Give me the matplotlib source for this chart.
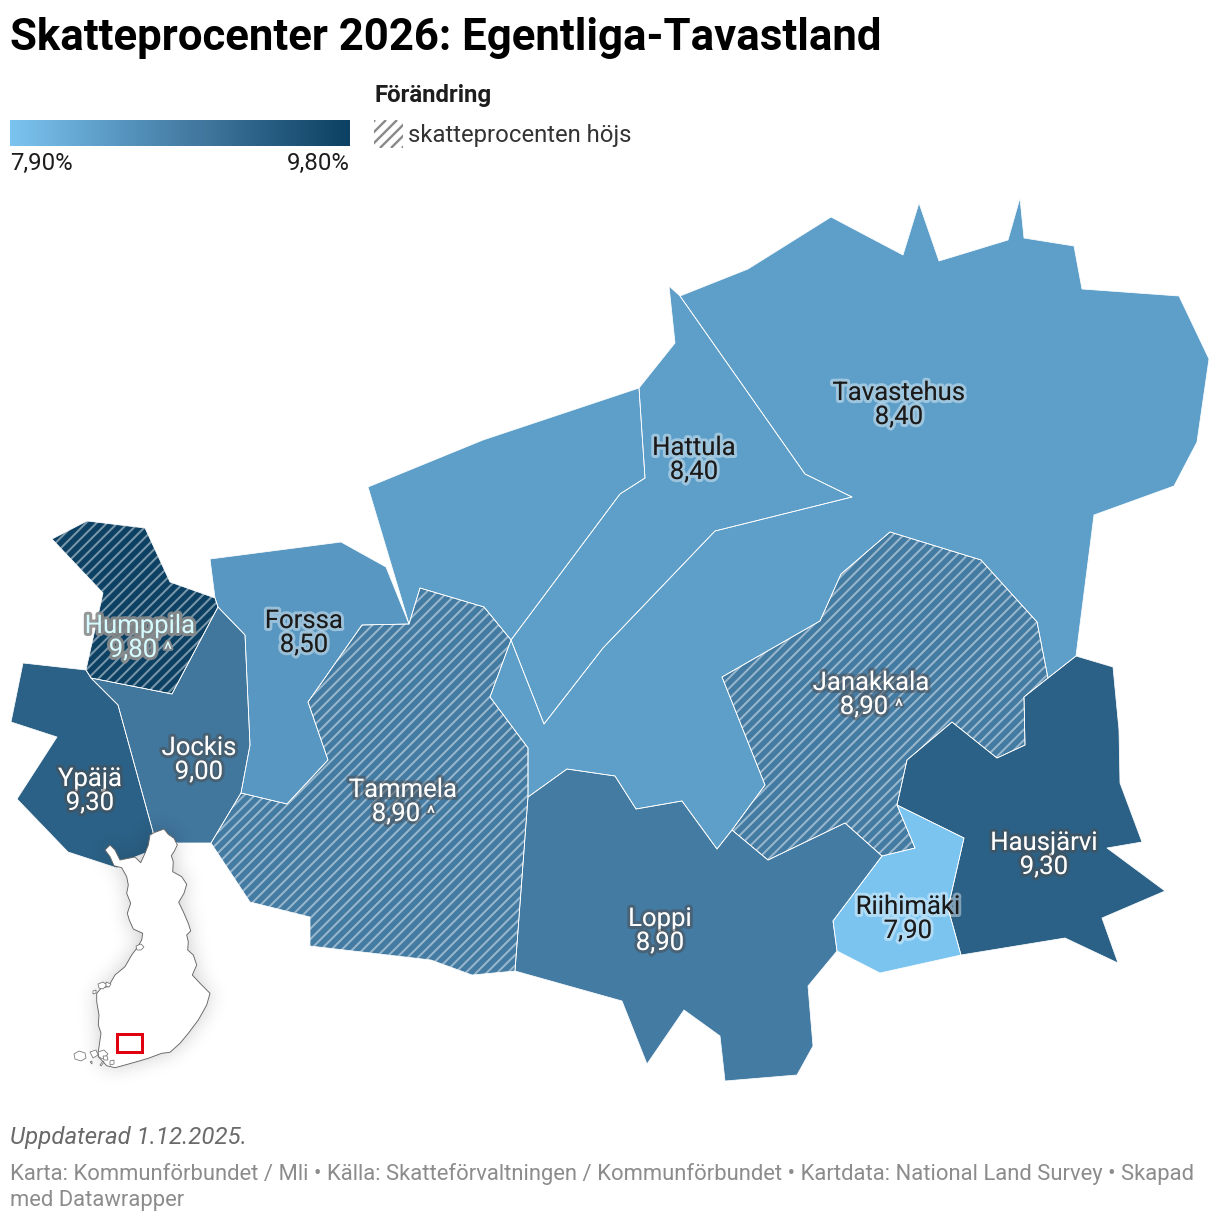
import matplotlib
matplotlib.use("Agg")
import matplotlib.pyplot as plt
import numpy as np
from matplotlib.patches import Polygon, Rectangle
from matplotlib.path import Path
from matplotlib.collections import LineCollection
from matplotlib.colors import LinearSegmentedColormap, Normalize
import matplotlib.patheffects as pe

plt.rcParams['font.family'] = ['Roboto', 'DejaVu Sans']

W, H = 1220, 1222
TITLE = "Skatteprocenter 2026: Egentliga-Tavastland"
UPDATED = "Uppdaterad 1.12.2025."
SOURCE_1 = "Karta: Kommunförbundet / Mli • Källa: Skatteförvaltningen / Kommunförbundet • Kartdata: National Land Survey • Skapad"
SOURCE_2 = "med Datawrapper"

# scale
scale_values = [7.9, 8.4, 8.5, 8.9, 9.0, 9.3, 9.8]
scale_colors = ["#7cc4f0", "#5e9fc9", "#5897c1", "#447ba3", "#41769d", "#2b6186", "#0d4163"]

# municipalities
names = ["Tavastehus", "Hattula", "Janakkala", "Tammela", "Forssa", "Humppila", "Jockis", "Ypäjä", "Loppi", "Hausjärvi", "Riihimäki"]
rates = [8.40, 8.40, 8.90, 8.90, 8.50, 9.80, 9.00, 9.30, 8.90, 9.30, 7.90]
raised = [False, False, True, True, False, True, False, False, False, False, False]
label_x = [899, 694, 871, 403, 304, 140, 199, 90, 660, 1044, 908]
label_y = [391, 446, 681, 788, 619, 624, 746, 777, 917, 841, 905]

tavastehus_east = [(680,296),(748,269),(831,217),(903,255),(919,203),(939,261),(1008,240),(1020,198),(1024,238),(1074,246),(1082,289),(1179,296),(1209,359),(1197,442),(1174,486),(1094,515),(1076,656),(1048,678),(1037,622),(981,560),(890,532),(841,574),(820,621),(722,677),(765,785),(732,830),(717,849),(682,801),(636,809),(615,776),(567,769),(528,797),(528,748),(490,697),(511,640),(544,724),(603,648),(715,531),(852,497),(805,474)]
tavastehus_west = [(368,487),(483,440),(639,388),(645,478),(620,494),(511,640),(484,607),(420,588),(409,624)]
hattula = [(669,286),(680,296),(805,474),(852,497),(715,531),(603,648),(544,724),(511,640),(620,494),(645,478),(639,388),(675,343)]
janakkala = [(722,677),(820,621),(841,574),(890,532),(981,560),(1037,622),(1048,678),(1024,697),(1025,745),(997,758),(952,722),(907,760),(897,805),(915,848),(882,856),(845,823),(768,860),(732,830),(765,785)]
tammela = [(420,588),(484,607),(511,640),(490,697),(528,748),(528,797),(515,971),(472,975),(431,960),(310,946),(310,917),(250,902),(211,843),(241,793),(287,804),(328,760),(308,702),(362,625),(409,624)]
forssa = [(210,559),(341,542),(386,567),(409,624),(362,625),(308,702),(328,760),(287,804),(241,793),(250,745),(245,635),(218,607),(215,598)]
humppila = [(52,539),(87,521),(145,528),(170,582),(215,598),(218,607),(172,694),(91,678),(86,670),(103,593)]
jockis = [(218,607),(245,635),(250,745),(241,793),(211,843),(177,843),(153,832),(118,705),(91,678),(172,694)]
ypaja = [(23,663),(86,670),(91,678),(118,705),(153,832),(148,852),(135,857),(117,868),(68,852),(17,799),(57,737),(11,722)]
loppi = [(528,797),(567,769),(615,776),(636,809),(682,801),(717,849),(732,830),(768,860),(845,823),(882,856),(833,921),(837,951),(808,986),(813,1046),(797,1075),(725,1081),(720,1036),(684,1010),(647,1064),(622,1001),(515,971)]
hausjarvi = [(1076,656),(1113,667),(1119,730),(1120,783),(1142,842),(1107,848),(1165,891),(1102,918),(1118,963),(1065,938),(961,955),(948,908),(964,838),(897,805),(907,760),(952,722),(997,758),(1025,745),(1024,697),(1048,678)]
riihimaki = [(897,805),(964,838),(948,908),(961,955),(880,973),(837,951),(833,921),(882,856),(915,848)]

shapes = {
    "Tavastehus": [tavastehus_east, tavastehus_west],
    "Hattula": [hattula],
    "Janakkala": [janakkala],
    "Tammela": [tammela],
    "Forssa": [forssa],
    "Humppila": [humppila],
    "Jockis": [jockis],
    "Ypäjä": [ypaja],
    "Loppi": [loppi],
    "Hausjärvi": [hausjarvi],
    "Riihimäki": [riihimaki],
}

# locator map
finland = [(150,835),(155,832.3),(164,829),(168.3,834.3),(174,838.3),(177.3,845),(174,851.7),(171.3,855.7),(173.3,861.7),(172.7,871.7),(181.7,876.7),(186.7,884.3),(184,893.3),(178.7,902.3),(183.3,911.7),(188.3,923.3),(190.7,931),(186.7,935),(188.3,941.7),(187.7,950),(193.3,955),(196.7,965),(192.3,975),(200,983.3),(210,993.3),(206.7,1005),(198.3,1020),(188.3,1033.3),(180,1043.3),(170,1052.3),(161.7,1053.3),(148.3,1058.3),(136.7,1061.7),(125,1065),(115,1067.7),(106.7,1065.7),(98.3,1056.7),(98.3,1051.7),(101,1033.3),(98.3,1025),(99,1015),(96.7,1001.7),(96.7,993.3),(101.7,987.7),(108.3,986.7),(115,975),(125,966.7),(131.7,955),(136.7,948.3),(141.7,940),(142.7,933.3),(133.3,929),(129.3,920),(127.3,913.3),(130.7,903.3),(126.7,893.3),(128.3,885),(126.7,876.7),(121.7,867.7),(114,865.7),(110,856.7),(105,850),(110,845),(115,850),(120,860),(135,857),(140.7,862.7),(145,853.3),(148.3,845)]
islands = [
    [(74,1054),(79,1051),(85,1053),(86,1058),(81,1061),(75,1059)],
    [(90,1052),(96,1050),(98,1055),(93,1058)],
    [(98,1052),(104,1050),(108,1054),(103,1059),(99,1057)],
    [(103,1056),(107,1056),(108,1060),(104,1060)],
    [(98,984),(103,982),(107,985),(103,989),(99,988)],
    [(106,982),(111,984),(109,987),(106,986)],
    [(136,946),(141,944),(144,947),(141,950),(137,950)],
    [(90,1062),(92,1061),(92,1064)],
    [(100,1065),(103,1061),(104,1062),(101,1066)],
    [(110,1061),(114,1060),(114,1064),(110,1065)],
    [(93,991),(96,990),(96,993),(93,994)],
]
locator_rect = (117, 1033.5, 25, 18)

cmap = LinearSegmentedColormap.from_list(
    "tax", [((v - scale_values[0]) / (scale_values[-1] - scale_values[0]), c) for v, c in zip(scale_values, scale_colors)])
norm = Normalize(scale_values[0], scale_values[-1])

fig = plt.figure(figsize=(W / 100, H / 100), dpi=100)
ax = fig.add_axes([0, 0, 1, 1])
ax.set_xlim(0, W)
ax.set_ylim(H, 0)
ax.axis("off")
px = 0.72

def stripes(x0, y0, x1, y1, pitch):
    segs = []
    start = np.floor((x0 + y0) / pitch) * pitch
    for c in np.arange(start, x1 + y1 + pitch, pitch):
        segs.append([(c - y0, y0), (c - y1, y1)])
    return segs

for name, rate, up in zip(names, rates, raised):
    col = cmap(norm(rate))
    for ring in shapes[name]:
        ax.add_patch(Polygon(ring, closed=True, facecolor=col, edgecolor="none", zorder=2))
for name, rate, up in zip(names, rates, raised):
    for ring in shapes[name]:
        if up:
            arr = np.array(ring)
            clip = Polygon(ring, closed=True, transform=ax.transData)
            lc = LineCollection(stripes(arr[:, 0].min(), arr[:, 1].min(), arr[:, 0].max(), arr[:, 1].max(), 10.5),
                                colors=[(1, 1, 1, 0.45)], linewidths=2.0 * px, zorder=3)
            ax.add_collection(lc)
            lc.set_clip_path(clip)
        ax.add_patch(Polygon(ring, closed=True, facecolor="none", edgecolor="white", linewidth=0.75 * px, joinstyle="round", zorder=4))

# locator inset: soft shadow
gx, gy = np.meshgrid(np.arange(30, 260) + 0.5, np.arange(790, 1110) + 0.5)
mask = Path(finland).contains_points(np.c_[gx.ravel(), gy.ravel()]).reshape(gx.shape).astype(float)
kx = np.arange(-30, 31)
kernel = np.exp(-kx ** 2 / (2 * 10.0 ** 2))
kernel /= kernel.sum()
blur = np.apply_along_axis(lambda r: np.convolve(r, kernel, mode="same"), 0, mask)
blur = np.apply_along_axis(lambda r: np.convolve(r, kernel, mode="same"), 1, blur)
rgba = np.zeros(mask.shape + (4,))
rgba[..., 3] = blur * 0.2
ax.imshow(rgba, extent=(30, 260, 1110, 790), aspect="auto", zorder=5, interpolation="bilinear")

ax.add_patch(Polygon(finland, closed=True, facecolor="white", edgecolor="#666666", linewidth=0.9 * px, joinstyle="round", zorder=6))
for isl in islands:
    ax.add_patch(Polygon(isl, closed=True, facecolor="white", edgecolor="#666666", linewidth=0.7 * px, zorder=6))
ax.add_patch(Rectangle(locator_rect[:2], locator_rect[2], locator_rect[3], facecolor="none", edgecolor="#e0000f", linewidth=3 * px, zorder=7))

# labels
for name, rate, up, lx, ly in zip(names, rates, raised, label_x, label_y):
    col = cmap(norm(rate))
    lum = 0.2126 * col[0] + 0.7152 * col[1] + 0.0722 * col[2]
    if rate >= 9.7:
        tc, hc = "#d5fbff", (0.55, 0.55, 0.55, 0.9)
    elif lum < 0.46:
        tc, hc = "#ffffff", (0.3, 0.3, 0.3, 0.5)
    else:
        tc, hc = "#1a1a1a", (1, 1, 1, 0.4)
    halo = [pe.withStroke(linewidth=6 * px, foreground=hc)]
    ax.text(lx, ly + 9, name, ha="center", va="baseline", fontsize=25.7 * px, color=tc, path_effects=halo, zorder=9)
    vtxt = f"{rate:.2f}".replace(".", ",")
    ax.text(lx - (7 if up else 0), ly + 33, vtxt, ha="center", va="baseline", fontsize=25.7 * px, color=tc, path_effects=halo, zorder=9)
    if up:
        ax.text(lx + 28, ly + 32, "^", ha="center", va="baseline", fontsize=20 * px, color=tc, path_effects=[pe.withStroke(linewidth=4 * px, foreground=hc)], zorder=9)

# header
ax.text(10, 50, TITLE, fontsize=43.8 * px, fontweight="bold", color="#000000", zorder=10)
grad = np.linspace(0, 1, 340).reshape(1, -1)
ax.imshow(grad, extent=(10, 350, 146, 120), cmap=cmap, aspect="auto", zorder=10)
ax.set_xlim(0, W)
ax.set_ylim(H, 0)
ax.text(10, 170, "7,90%", fontsize=24 * px, color="#1d1d1d", zorder=10)
ax.text(350, 170, "9,80%", fontsize=24 * px, color="#1d1d1d", ha="right", zorder=10)
ax.text(374, 102, "Förändring", fontsize=24 * px, fontweight="bold", color="#1d1d1d", zorder=10)
sw = Rectangle((374, 120), 29, 28, facecolor="none", edgecolor="none", zorder=10)
ax.add_patch(sw)
slc = LineCollection(stripes(374, 120, 403, 148, 11), colors="#8a8a8a", linewidths=2.4 * px, zorder=10)
ax.add_collection(slc)
slc.set_clip_path(sw)
ax.text(408, 142, "skatteprocenten höjs", fontsize=23.9 * px, color="#333333", zorder=10)

# footer
ax.text(10, 1144, UPDATED, fontsize=24 * px, fontstyle="italic", color="#6a6a6a", zorder=10)
ax.text(10, 1180, SOURCE_1, fontsize=21.96 * px, color="#8c8c8c", zorder=10)
ax.text(10, 1206, SOURCE_2, fontsize=21.96 * px, color="#8c8c8c", zorder=10)

fig.savefig("out.png", dpi=100, facecolor="white")
